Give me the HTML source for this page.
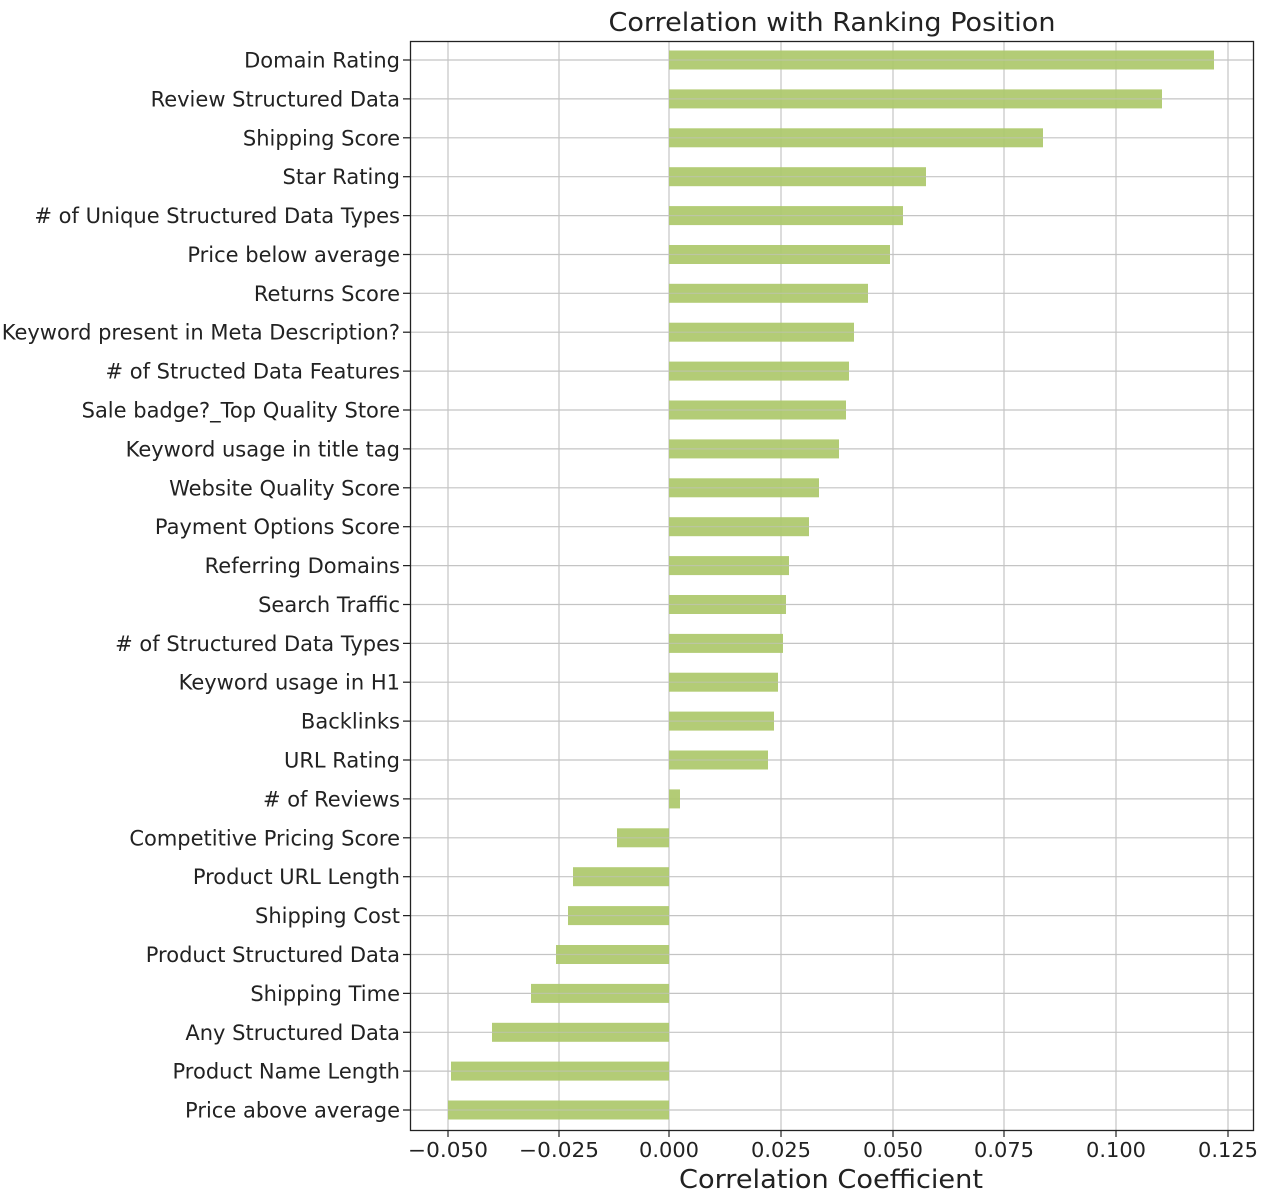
<!DOCTYPE html>
<html><head><meta charset="utf-8"><style>html,body{margin:0;padding:0;background:#fff}svg{display:block}</style></head>
<body>
<svg width="1262" height="1198" viewBox="0 0 1262 1198" xmlns="http://www.w3.org/2000/svg" font-family="DejaVu Sans, Liberation Sans, sans-serif" fill="#222">
<rect width="1262" height="1198" fill="#fff"/>
<text x="832" y="31" font-size="26" text-anchor="middle" textLength="447" lengthAdjust="spacingAndGlyphs">Correlation with Ranking Position</text>
<g stroke="#c4c4c4" stroke-width="1.2">
<line x1="448" y1="41" x2="448" y2="1130"/><line x1="559" y1="41" x2="559" y2="1130"/><line x1="669" y1="41" x2="669" y2="1130"/><line x1="781" y1="41" x2="781" y2="1130"/><line x1="893" y1="41" x2="893" y2="1130"/><line x1="1004" y1="41" x2="1004" y2="1130"/><line x1="1116" y1="41" x2="1116" y2="1130"/><line x1="1228" y1="41" x2="1228" y2="1130"/>
<line x1="403" y1="60" x2="1253" y2="60"/><line x1="403" y1="98.9" x2="1253" y2="98.9"/><line x1="403" y1="137.8" x2="1253" y2="137.8"/><line x1="403" y1="176.7" x2="1253" y2="176.7"/><line x1="403" y1="215.6" x2="1253" y2="215.6"/><line x1="403" y1="254.5" x2="1253" y2="254.5"/><line x1="403" y1="293.3" x2="1253" y2="293.3"/><line x1="403" y1="332.2" x2="1253" y2="332.2"/><line x1="403" y1="371.1" x2="1253" y2="371.1"/><line x1="403" y1="410" x2="1253" y2="410"/><line x1="403" y1="448.9" x2="1253" y2="448.9"/><line x1="403" y1="487.8" x2="1253" y2="487.8"/><line x1="403" y1="526.7" x2="1253" y2="526.7"/><line x1="403" y1="565.6" x2="1253" y2="565.6"/><line x1="403" y1="604.5" x2="1253" y2="604.5"/><line x1="403" y1="643.4" x2="1253" y2="643.4"/><line x1="403" y1="682.2" x2="1253" y2="682.2"/><line x1="403" y1="721.1" x2="1253" y2="721.1"/><line x1="403" y1="760" x2="1253" y2="760"/><line x1="403" y1="798.9" x2="1253" y2="798.9"/><line x1="403" y1="837.8" x2="1253" y2="837.8"/><line x1="403" y1="876.7" x2="1253" y2="876.7"/><line x1="403" y1="915.6" x2="1253" y2="915.6"/><line x1="403" y1="954.5" x2="1253" y2="954.5"/><line x1="403" y1="993.4" x2="1253" y2="993.4"/><line x1="403" y1="1032.3" x2="1253" y2="1032.3"/><line x1="403" y1="1071.1" x2="1253" y2="1071.1"/><line x1="403" y1="1110" x2="1253" y2="1110"/>
</g>
<g fill="#adc86a" fill-opacity="0.92">
<rect x="669" y="50.5" width="545" height="19"/>
<rect x="669" y="89.4" width="493" height="19"/>
<rect x="669" y="128.3" width="374" height="19"/>
<rect x="669" y="167.2" width="257" height="19"/>
<rect x="669" y="206.1" width="234" height="19"/>
<rect x="669" y="245" width="221" height="19"/>
<rect x="669" y="283.8" width="199" height="19"/>
<rect x="669" y="322.7" width="185" height="19"/>
<rect x="669" y="361.6" width="180" height="19"/>
<rect x="669" y="400.5" width="177" height="19"/>
<rect x="669" y="439.4" width="170" height="19"/>
<rect x="669" y="478.3" width="150" height="19"/>
<rect x="669" y="517.2" width="140" height="19"/>
<rect x="669" y="556.1" width="120" height="19"/>
<rect x="669" y="595" width="117" height="19"/>
<rect x="669" y="633.9" width="114" height="19"/>
<rect x="669" y="672.7" width="109" height="19"/>
<rect x="669" y="711.6" width="105" height="19"/>
<rect x="669" y="750.5" width="99" height="19"/>
<rect x="669" y="789.4" width="11" height="19"/>
<rect x="617" y="828.3" width="52" height="19"/>
<rect x="573" y="867.2" width="96" height="19"/>
<rect x="568" y="906.1" width="101" height="19"/>
<rect x="556" y="945" width="113" height="19"/>
<rect x="531" y="983.9" width="138" height="19"/>
<rect x="492" y="1022.8" width="177" height="19"/>
<rect x="451" y="1061.6" width="218" height="19"/>
<rect x="448" y="1100.5" width="221" height="19"/>
</g>
<g stroke="#c4c4c4" stroke-opacity="0.6" stroke-width="1.2">
<line x1="669" y1="60" x2="1214" y2="60"/><line x1="669" y1="98.9" x2="1162" y2="98.9"/><line x1="669" y1="137.8" x2="1043" y2="137.8"/><line x1="669" y1="176.7" x2="926" y2="176.7"/><line x1="669" y1="215.6" x2="903" y2="215.6"/><line x1="669" y1="254.5" x2="890" y2="254.5"/><line x1="669" y1="293.3" x2="868" y2="293.3"/><line x1="669" y1="332.2" x2="854" y2="332.2"/><line x1="669" y1="371.1" x2="849" y2="371.1"/><line x1="669" y1="410" x2="846" y2="410"/><line x1="669" y1="448.9" x2="839" y2="448.9"/><line x1="669" y1="487.8" x2="819" y2="487.8"/><line x1="669" y1="526.7" x2="809" y2="526.7"/><line x1="669" y1="565.6" x2="789" y2="565.6"/><line x1="669" y1="604.5" x2="786" y2="604.5"/><line x1="669" y1="643.4" x2="783" y2="643.4"/><line x1="669" y1="682.2" x2="778" y2="682.2"/><line x1="669" y1="721.1" x2="774" y2="721.1"/><line x1="669" y1="760" x2="768" y2="760"/><line x1="617" y1="837.8" x2="669" y2="837.8"/><line x1="573" y1="876.7" x2="669" y2="876.7"/><line x1="568" y1="915.6" x2="669" y2="915.6"/><line x1="556" y1="954.5" x2="669" y2="954.5"/><line x1="531" y1="993.4" x2="669" y2="993.4"/><line x1="492" y1="1032.3" x2="669" y2="1032.3"/><line x1="451" y1="1071.1" x2="669" y2="1071.1"/><line x1="448" y1="1110" x2="669" y2="1110"/>
</g>
<g stroke="#222" stroke-width="1.2">
<line x1="403" y1="60" x2="410" y2="60"/><line x1="403" y1="98.9" x2="410" y2="98.9"/><line x1="403" y1="137.8" x2="410" y2="137.8"/><line x1="403" y1="176.7" x2="410" y2="176.7"/><line x1="403" y1="215.6" x2="410" y2="215.6"/><line x1="403" y1="254.5" x2="410" y2="254.5"/><line x1="403" y1="293.3" x2="410" y2="293.3"/><line x1="403" y1="332.2" x2="410" y2="332.2"/><line x1="403" y1="371.1" x2="410" y2="371.1"/><line x1="403" y1="410" x2="410" y2="410"/><line x1="403" y1="448.9" x2="410" y2="448.9"/><line x1="403" y1="487.8" x2="410" y2="487.8"/><line x1="403" y1="526.7" x2="410" y2="526.7"/><line x1="403" y1="565.6" x2="410" y2="565.6"/><line x1="403" y1="604.5" x2="410" y2="604.5"/><line x1="403" y1="643.4" x2="410" y2="643.4"/><line x1="403" y1="682.2" x2="410" y2="682.2"/><line x1="403" y1="721.1" x2="410" y2="721.1"/><line x1="403" y1="760" x2="410" y2="760"/><line x1="403" y1="798.9" x2="410" y2="798.9"/><line x1="403" y1="837.8" x2="410" y2="837.8"/><line x1="403" y1="876.7" x2="410" y2="876.7"/><line x1="403" y1="915.6" x2="410" y2="915.6"/><line x1="403" y1="954.5" x2="410" y2="954.5"/><line x1="403" y1="993.4" x2="410" y2="993.4"/><line x1="403" y1="1032.3" x2="410" y2="1032.3"/><line x1="403" y1="1071.1" x2="410" y2="1071.1"/><line x1="403" y1="1110" x2="410" y2="1110"/>
<line x1="448" y1="1130" x2="448" y2="1137"/><line x1="559" y1="1130" x2="559" y2="1137"/><line x1="669" y1="1130" x2="669" y2="1137"/><line x1="781" y1="1130" x2="781" y2="1137"/><line x1="893" y1="1130" x2="893" y2="1137"/><line x1="1004" y1="1130" x2="1004" y2="1137"/><line x1="1116" y1="1130" x2="1116" y2="1137"/><line x1="1228" y1="1130" x2="1228" y2="1137"/>
</g>
<rect x="410.5" y="41.5" width="843" height="1089" fill="none" stroke="#222" stroke-width="1.3"/>
<g font-size="21" text-anchor="end">
<text x="400" y="67.5">Domain Rating</text>
<text x="400" y="106.4">Review Structured Data</text>
<text x="400" y="145.3">Shipping Score</text>
<text x="400" y="184.2">Star Rating</text>
<text x="400" y="223.1"># of Unique Structured Data Types</text>
<text x="400" y="262">Price below average</text>
<text x="400" y="300.8">Returns Score</text>
<text x="400" y="339.7">Keyword present in Meta Description?</text>
<text x="400" y="378.6"># of Structed Data Features</text>
<text x="400" y="417.5">Sale badge?_Top Quality Store</text>
<text x="400" y="456.4">Keyword usage in title tag</text>
<text x="400" y="495.3">Website Quality Score</text>
<text x="400" y="534.2">Payment Options Score</text>
<text x="400" y="573.1">Referring Domains</text>
<text x="400" y="612">Search Traffic</text>
<text x="400" y="650.9"># of Structured Data Types</text>
<text x="400" y="689.7">Keyword usage in H1</text>
<text x="400" y="728.6">Backlinks</text>
<text x="400" y="767.5">URL Rating</text>
<text x="400" y="806.4"># of Reviews</text>
<text x="400" y="845.3">Competitive Pricing Score</text>
<text x="400" y="884.2">Product URL Length</text>
<text x="400" y="923.1">Shipping Cost</text>
<text x="400" y="962">Product Structured Data</text>
<text x="400" y="1000.9">Shipping Time</text>
<text x="400" y="1039.8">Any Structured Data</text>
<text x="400" y="1078.6">Product Name Length</text>
<text x="400" y="1117.5">Price above average</text>
</g>
<g font-size="20" text-anchor="middle">
<text x="448" y="1157" textLength="80" lengthAdjust="spacingAndGlyphs">−0.050</text>
<text x="559" y="1157" textLength="80" lengthAdjust="spacingAndGlyphs">−0.025</text>
<text x="669" y="1157" textLength="60" lengthAdjust="spacingAndGlyphs">0.000</text>
<text x="781" y="1157" textLength="60" lengthAdjust="spacingAndGlyphs">0.025</text>
<text x="893" y="1157" textLength="60" lengthAdjust="spacingAndGlyphs">0.050</text>
<text x="1004" y="1157" textLength="60" lengthAdjust="spacingAndGlyphs">0.075</text>
<text x="1116" y="1157" textLength="60" lengthAdjust="spacingAndGlyphs">0.100</text>
<text x="1228" y="1157" textLength="60" lengthAdjust="spacingAndGlyphs">0.125</text>
</g>
<text x="831" y="1188" font-size="26" text-anchor="middle" textLength="304" lengthAdjust="spacingAndGlyphs">Correlation Coefficient</text>
</svg>
</body></html>
